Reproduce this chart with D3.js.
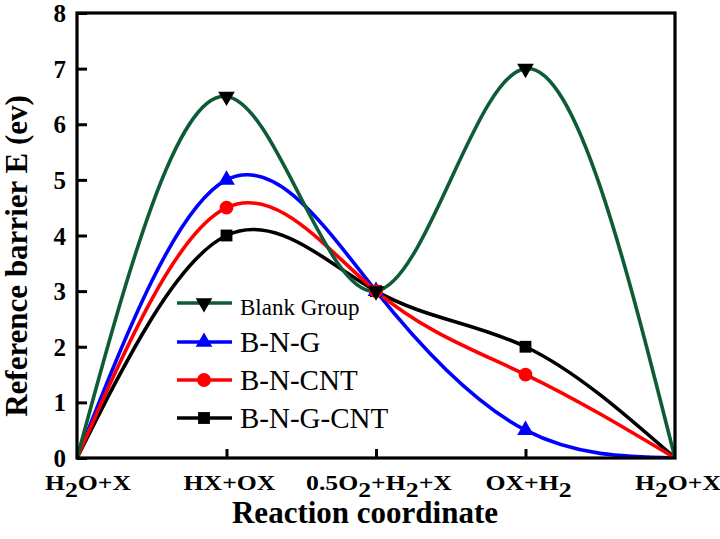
<!DOCTYPE html>
<html><head><meta charset="utf-8">
<script src="https://cdn.jsdelivr.net/npm/d3@7"></script>
<style>
html,body{margin:0;padding:0;background:#fff;}
svg{display:block;}
svg text{font-family:"Liberation Serif","Times New Roman",serif;}
</style></head>
<body><svg id="chart" width="720" height="539"></svg>
<script>
// ---- data ----
const categories = ["H_2O+X", "HX+OX", "0.5O_2+H_2+X", "OX+H_2", "H_2O+X"];
const seriesNames = ["Blank Group", "B-N-G", "B-N-CNT", "B-N-G-CNT"];
const blankGroup = [0, 6.5, 3, 7, 0];
const bng = [0, 5, 3, 0.5, 0];
const bncnt = [0, 4.5, 3, 1.5, 0];
const bngcnt = [0, 4, 3, 2, 0];
const yTicks = [0, 1, 2, 3, 4, 5, 6, 7, 8];
const xTitle = "Reaction coordinate";
const yTitle = "Reference barrier E (ev)";

// ---- styles ----
const seriesStyle = {
  "Blank Group": {color: "#0d5c36", marker: "#000", sym: "down"},
  "B-N-G": {color: "#0000ff", marker: "#0000ff", sym: "up"},
  "B-N-CNT": {color: "#ff0000", marker: "#ff0000", sym: "circle"},
  "B-N-G-CNT": {color: "#000000", marker: "#000", sym: "square"}
};
const seriesValues = {"Blank Group": blankGroup, "B-N-G": bng, "B-N-CNT": bncnt, "B-N-G-CNT": bngcnt};

const svg = d3.select("#chart");
const m = {left: 77, right: 675, top: 13, bottom: 458};
const x = d3.scaleLinear().domain([0, categories.length - 1]).range([m.left, m.right]);
const y = d3.scaleLinear().domain([0, 8]).range([m.bottom, m.top]);

svg.append("clipPath").attr("id", "clip").append("rect")
  .attr("x", m.left).attr("y", m.top).attr("width", m.right - m.left).attr("height", m.bottom - m.top);

const line = d3.line().x((d, i) => x(i)).y(d => y(d)).curve(d3.curveNatural);

const drawOrder = ["B-N-G-CNT", "B-N-G", "B-N-CNT", "Blank Group"];
const gLines = svg.append("g").attr("clip-path", "url(#clip)");
drawOrder.forEach(name => {
  gLines.append("path").datum(seriesValues[name])
    .attr("d", line).attr("fill", "none")
    .attr("stroke", seriesStyle[name].color).attr("stroke-width", 3.6)
    .attr("stroke-linejoin", "round");
});

function symbolPath(sym) {
  if (sym === "down" || sym === "up") return d3.symbol(d3.symbolTriangle, 120)();
  if (sym === "circle") return d3.symbol(d3.symbolCircle, 150)();
  return d3.symbol(d3.symbolSquare, 140)();
}
function placeMarker(g, sym, cx, cy, fill) {
  g.append("path").attr("d", symbolPath(sym))
    .attr("transform", `translate(${cx},${cy})` + (sym === "down" ? " rotate(180)" : ""))
    .attr("fill", fill);
}

// axes frame
svg.append("rect").attr("x", m.left).attr("y", m.top)
  .attr("width", m.right - m.left).attr("height", m.bottom - m.top)
  .attr("fill", "none").attr("stroke", "#000").attr("stroke-width", 3.2);

// y axis
const yAxis = d3.axisLeft(y).tickValues(yTicks).tickSize(-10).tickPadding(11).tickFormat(d3.format("d"));
const yg = svg.append("g").attr("transform", `translate(${m.left},0)`).call(yAxis);
yg.attr("font-family", null);
yg.select(".domain").remove();
yg.selectAll(".tick line").attr("stroke", "#000").attr("stroke-width", 3);
yg.selectAll(".tick text").attr("font-size", 25).attr("font-weight", "bold")
  .attr("fill", "#000").attr("dy", "0.34em");

// x axis
const xAxis = d3.axisBottom(x).tickValues(d3.range(categories.length)).tickSize(-9).tickFormat("");
const xg = svg.append("g").attr("transform", `translate(0,${m.bottom})`).call(xAxis);
xg.attr("font-family", null);
xg.select(".domain").remove();
xg.selectAll(".tick text").remove();
xg.selectAll(".tick line").attr("stroke", "#000").attr("stroke-width", 3)
  .attr("display", (d, i) => (i === 0 || i === categories.length - 1) ? "none" : null);

// x tick labels with subscripts
categories.forEach((lab, i) => {
  const t = svg.append("text")
    .attr("font-size", 22).attr("font-weight", "bold").attr("fill", "#000")
    .attr("text-anchor", "middle");
  const parts = lab.split(/(_\d)/).filter(s => s.length);
  let shift = 0;
  parts.forEach(p => {
    if (p.startsWith("_")) {
      t.append("tspan").attr("dy", 7 - shift).text(p.slice(1));
      shift = 7;
    } else {
      const ts = t.append("tspan").text(p);
      if (shift) { ts.attr("dy", -shift); shift = 0; }
    }
  });
  let cx = x(i) + 3;
  if (i === 0) cx = x(i) + 11;
  t.attr("transform", `translate(${cx},490) scale(1.17,1)`);
});

// axis titles
svg.append("text").attr("x", 365).attr("y", 523).attr("text-anchor", "middle")
  .attr("font-size", 31).attr("font-weight", "bold").attr("fill", "#000").text(xTitle);
svg.append("text").attr("transform", "translate(27,256) rotate(-90)").attr("text-anchor", "middle")
  .attr("font-size", 31).attr("font-weight", "bold").attr("fill", "#000").text(yTitle);

// markers (interior points), blank on top
const gMark = svg.append("g");
drawOrder.forEach(name => {
  const vals = seriesValues[name];
  vals.forEach((v, i) => {
    if (i === 0 || i === vals.length - 1) return;
    placeMarker(gMark, seriesStyle[name].sym, x(i), y(v), seriesStyle[name].marker);
  });
});

// legend
const legendRows = [303, 342, 380, 418];
const legendFont = [23, 29, 29, 29];
const lg = svg.append("g");
seriesNames.forEach((name, i) => {
  const cy = legendRows[i];
  lg.append("line").attr("x1", 177).attr("x2", 232).attr("y1", cy).attr("y2", cy)
    .attr("stroke", seriesStyle[name].color).attr("stroke-width", 3.6);
  placeMarker(lg, seriesStyle[name].sym, 204, cy, seriesStyle[name].marker);
  lg.append("text").attr("x", 240).attr("y", cy).attr("dy", i === 0 ? "0.5em" : "0.34em")
    .attr("font-size", legendFont[i]).attr("fill", "#000").text(name);
});
</script>
</body></html>
